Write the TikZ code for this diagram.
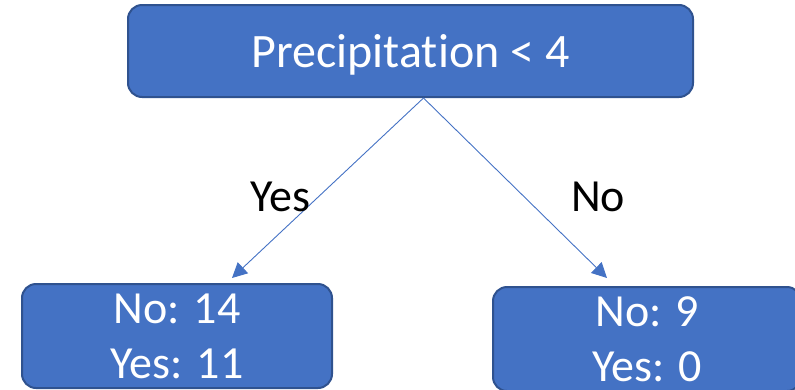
\documentclass[tikz,border=0pt]{standalone}
\usepackage{fontspec}
\setmainfont{Carlito}[Ligatures=NoCommon]
\usetikzlibrary{arrows.meta}
\definecolor{boxfill}{HTML}{4472C4}
\definecolor{boxedge}{HTML}{2F528F}
\begin{document}
\begin{tikzpicture}[x=1pt,y=-1pt,
  treebox/.style={draw=boxedge, line width=2pt, fill=boxfill, rounded corners=14pt,
    text=white, inner sep=0pt, align=center},
  branch/.style={draw=boxfill, line width=0.9pt, -{Triangle[length=15pt,width=15pt]}},
  edgelabel/.style={font=\fontsize{46}{55}\selectfont, text=black}]
\useasboundingbox (0,0) rectangle (795,389);
% root split
\node[treebox, minimum width=565pt, minimum height=92pt, text depth=0pt,
  font=\fontsize{48}{55}\selectfont] (root) at (410.5,51) {Precipitation < 4};
% leaves
\node[treebox, minimum width=310pt, minimum height=104pt,
  font=\fontsize{46}{55}\selectfont] (left) at (177,336) {No: 14\\Yes: 11};
\node[treebox, minimum width=308pt, minimum height=104pt,
  font=\fontsize{46}{55}\selectfont] (right) at (647,339) {No: 9\\Yes: 0};
% fork point on the root's lower edge and arrow tips just above the leaves
\coordinate (fork) at ([xshift=13pt]root.south);
\coordinate (ltip) at (232,278);
\coordinate (rtip) at (607,278);
\draw[branch] (fork) -- (ltip);
\draw[branch] (fork) -- (rtip);
% branch labels
\node[edgelabel] (yes) at (280,197) {Yes};
\node[edgelabel] (no) at (598,197) {No};
\end{tikzpicture}
\end{document}
